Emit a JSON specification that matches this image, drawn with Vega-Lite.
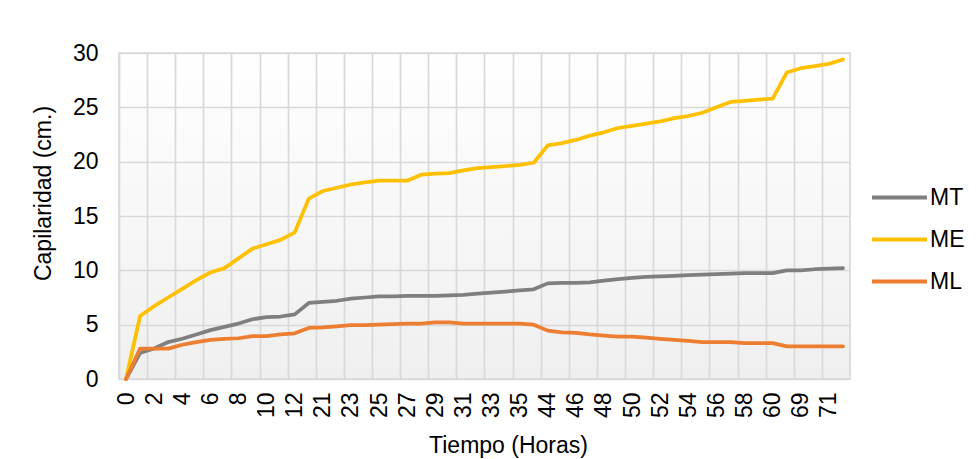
{
  "$schema": "https://vega.github.io/schema/vega-lite/v6.json",
  "width": 731,
  "height": 326,
  "autosize": "none",
  "padding": {"left": 119, "top": 53, "right": 130, "bottom": 80},
  "background": "white",
  "config": {
    "font": "Liberation Sans",
    "view": {
      "stroke": "#d9d9d9",
      "strokeWidth": 1.7,
      "fill": {"gradient": "linear", "x1": 0, "y1": 0, "x2": 0, "y2": 1, "stops": [{"offset": 0, "color": "#ffffff"}, {"offset": 1, "color": "#efefef"}]}
    }
  },
  "data": {
    "values": [
      {"h": "0", "MT": 0, "ME": 0, "ML": 0},
      {"h": "1", "MT": 2.4, "ME": 5.8, "ML": 2.8},
      {"h": "2", "MT": 2.8, "ME": 6.7, "ML": 2.8},
      {"h": "3", "MT": 3.4, "ME": 7.5, "ML": 2.8},
      {"h": "4", "MT": 3.7, "ME": 8.3, "ML": 3.15},
      {"h": "5", "MT": 4.1, "ME": 9.1, "ML": 3.4},
      {"h": "6", "MT": 4.5, "ME": 9.8, "ML": 3.6},
      {"h": "7", "MT": 4.8, "ME": 10.2, "ML": 3.7},
      {"h": "8", "MT": 5.1, "ME": 11.1, "ML": 3.75},
      {"h": "9", "MT": 5.5, "ME": 12.0, "ML": 3.95},
      {"h": "10", "MT": 5.7, "ME": 12.4, "ML": 3.95},
      {"h": "11", "MT": 5.75, "ME": 12.8, "ML": 4.1},
      {"h": "12", "MT": 5.95, "ME": 13.5, "ML": 4.2},
      {"h": "20", "MT": 7.0, "ME": 16.6, "ML": 4.7},
      {"h": "21", "MT": 7.1, "ME": 17.3, "ML": 4.75},
      {"h": "22", "MT": 7.2, "ME": 17.6, "ML": 4.85},
      {"h": "23", "MT": 7.4, "ME": 17.9, "ML": 4.95},
      {"h": "24", "MT": 7.5, "ME": 18.1, "ML": 4.95},
      {"h": "25", "MT": 7.6, "ME": 18.25, "ML": 5.0},
      {"h": "26", "MT": 7.6, "ME": 18.25, "ML": 5.05},
      {"h": "27", "MT": 7.65, "ME": 18.25, "ML": 5.1},
      {"h": "28", "MT": 7.65, "ME": 18.8, "ML": 5.1},
      {"h": "29", "MT": 7.65, "ME": 18.9, "ML": 5.2},
      {"h": "30", "MT": 7.7, "ME": 18.95, "ML": 5.2},
      {"h": "31", "MT": 7.75, "ME": 19.2, "ML": 5.1},
      {"h": "32", "MT": 7.85, "ME": 19.4, "ML": 5.1},
      {"h": "33", "MT": 7.95, "ME": 19.5, "ML": 5.1},
      {"h": "34", "MT": 8.05, "ME": 19.6, "ML": 5.1},
      {"h": "35", "MT": 8.15, "ME": 19.7, "ML": 5.1},
      {"h": "36", "MT": 8.25, "ME": 19.9, "ML": 5.0},
      {"h": "44", "MT": 8.8, "ME": 21.5, "ML": 4.45},
      {"h": "45", "MT": 8.85, "ME": 21.7, "ML": 4.3},
      {"h": "46", "MT": 8.85, "ME": 22.0, "ML": 4.25},
      {"h": "47", "MT": 8.9, "ME": 22.4, "ML": 4.1},
      {"h": "48", "MT": 9.05, "ME": 22.7, "ML": 4.0},
      {"h": "49", "MT": 9.2, "ME": 23.1, "ML": 3.9},
      {"h": "50", "MT": 9.3, "ME": 23.3, "ML": 3.9},
      {"h": "51", "MT": 9.4, "ME": 23.5, "ML": 3.8},
      {"h": "52", "MT": 9.45, "ME": 23.7, "ML": 3.7},
      {"h": "53", "MT": 9.5, "ME": 24.0, "ML": 3.6},
      {"h": "54", "MT": 9.55, "ME": 24.2, "ML": 3.5},
      {"h": "55", "MT": 9.6, "ME": 24.5, "ML": 3.4},
      {"h": "56", "MT": 9.65, "ME": 25.0, "ML": 3.4},
      {"h": "57", "MT": 9.7, "ME": 25.5, "ML": 3.4},
      {"h": "58", "MT": 9.75, "ME": 25.6, "ML": 3.3},
      {"h": "59", "MT": 9.75, "ME": 25.7, "ML": 3.3},
      {"h": "60", "MT": 9.75, "ME": 25.8, "ML": 3.3},
      {"h": "68", "MT": 10.0, "ME": 28.2, "ML": 3.0},
      {"h": "69", "MT": 10.0, "ME": 28.6, "ML": 3.0},
      {"h": "70", "MT": 10.1, "ME": 28.8, "ML": 3.0},
      {"h": "71", "MT": 10.15, "ME": 29.0, "ML": 3.0},
      {"h": "72", "MT": 10.2, "ME": 29.4, "ML": 3.0}
    ]
  },
  "transform": [{"fold": ["MT", "ME", "ML"], "as": ["serie", "v"]}],
  "mark": {"type": "line", "strokeWidth": 3.75, "strokeCap": "round", "strokeJoin": "round"},
  "encoding": {
    "x": {
      "field": "h",
      "type": "ordinal",
      "sort": null,
      "scale": {"type": "point", "padding": 0.5},
      "axis": {
        "values": ["0", "2", "4", "6", "8", "10", "12", "21", "23", "25", "27", "29", "31", "33", "35", "44", "46", "48", "50", "52", "54", "56", "58", "60", "69", "71"],
        "labelAngle": 270,
        "labelAlign": "right",
        "labelBaseline": "middle",
        "labelPadding": 13,
        "labelFontSize": 23,
        "labelColor": "#000000",
        "labelOverlap": false,
        "tickOffset": -7.03,
        "labelOffset": 7.03,
        "ticks": false,
        "domain": false,
        "grid": true,
        "gridColor": "#d9d9d9",
        "gridWidth": 1.7,
        "title": "Tiempo (Horas)",
        "titleFontSize": 23,
        "titleFontWeight": "normal",
        "titleColor": "#000000",
        "titleX": 389,
        "titleY": 73,
        "titleBaseline": "alphabetic"
      }
    },
    "y": {
      "field": "v",
      "type": "quantitative",
      "scale": {"domain": [0, 30]},
      "axis": {
        "values": [0, 5, 10, 15, 20, 25, 30],
        "labelPadding": 21,
        "labelFontSize": 23,
        "labelColor": "#000000",
        "ticks": false,
        "domain": false,
        "grid": true,
        "gridColor": "#d9d9d9",
        "gridWidth": 1.7,
        "title": "Capilaridad (cm.)",
        "titleFontSize": 23,
        "titleFontWeight": "normal",
        "titleColor": "#000000",
        "titleAngle": 270,
        "titleX": -69,
        "titleY": 140,
        "titleBaseline": "alphabetic"
      }
    },
    "color": {
      "field": "serie",
      "type": "nominal",
      "scale": {"domain": ["MT", "ME", "ML"], "range": ["#7f7f7f", "#ffc000", "#ed7d31"]},
      "legend": {
        "title": null,
        "orient": "none",
        "legendX": 751,
        "legendY": 115,
        "symbolType": "stroke",
        "symbolSize": 3025,
        "symbolStrokeWidth": 4,
        "labelFontSize": 23,
        "labelColor": "#000000",
        "labelOffset": 1,
        "rowPadding": 0,
        "padding": 0
      }
    },
    "order": {"value": null}
  }
}
